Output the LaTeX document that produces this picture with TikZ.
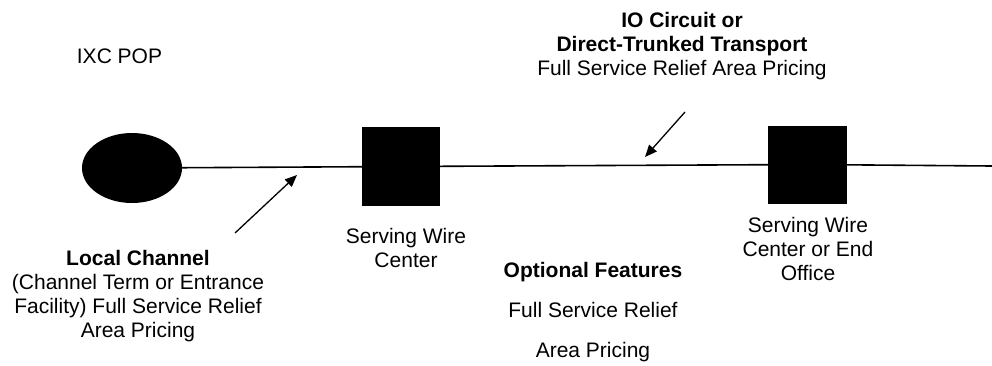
\documentclass[tikz,border=0pt]{standalone}
\usepackage{fontspec}
\setmainfont{Liberation Sans}
\usetikzlibrary{arrows.meta, shapes.geometric, positioning}
\tikzset{
  site/.style={fill=black, inner sep=0pt},
  lbl/.style={align=center, inner sep=0pt, anchor=base, font=\fontsize{21}{24}\selectfont},
  pointer/.style={-{Triangle[length=12pt,width=10pt]}, line width=1.3pt},
}

\begin{document}
\begin{tikzpicture}[x=1pt, y=-1pt]
            \useasboundingbox (0,0) rectangle (992,365);
            \node (node pop) at(132,168) [site,ellipse,minimum width=100pt,minimum height=70pt] {};
            \node (node swc) at(401,166.5) [site,rectangle,minimum width=78pt,minimum height=79pt] {};
            \node (node eo) at(807.5,164.5) [site,rectangle,minimum width=79pt,minimum height=78pt] {};
            \coordinate (line end) at (992,166);

            \path[line width=1.6pt] (node pop) edge[-] (node swc)
                    (node swc) edge[-] (node eo)
                    (node eo) edge[-] (line end);

            % labels (base = last line)
            \node (lbl pop) at(119.5,63) [lbl] {IXC POP};
            \node (lbl io) at(682,75) [lbl] {\textbf{IO Circuit or}\\\textbf{Direct-Trunked Transport}\\Full Service Relief Area Pricing};
            \node (lbl lc) at(138,337) [lbl] {\textbf{Local Channel}\\(Channel Term or Entrance\\Facility) Full Service Relief\\Area Pricing};
            \node (lbl swc) at(406,267) [lbl] {Serving Wire\\Center};
            \node (lbl eo) at(808,280) [lbl] {Serving Wire\\Center or End\\Office};
            \node (lbl opt) at(593,357) [lbl] {\textbf{Optional Features}\\[16pt]Full Service Relief\\[16pt]Area Pricing};

            % arrows
            \coordinate (lc tail) at (235,233);
            \coordinate (lc tip) at (297,175);
            \coordinate (io tail) at (685,112);
            \coordinate (io tip) at (645,157);
            \draw[pointer] (lc tail) -- (lc tip);
            \draw[pointer] (io tail) -- (io tip);
\end{tikzpicture}
\end{document}
